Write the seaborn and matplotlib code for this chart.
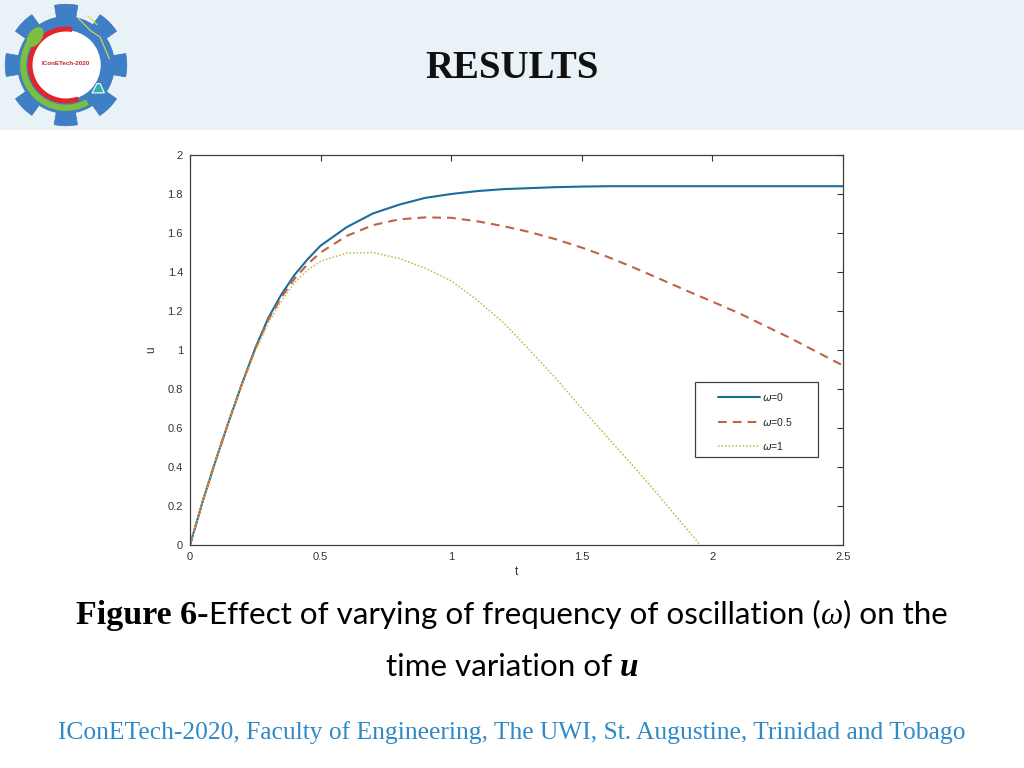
import numpy as np
import pandas as pd
import matplotlib
matplotlib.use("Agg")
import matplotlib.pyplot as plt
from matplotlib.patches import Rectangle, Polygon, Circle, Wedge, Ellipse
from matplotlib.offsetbox import TextArea, HPacker, AnnotationBbox
from matplotlib.ticker import FormatStrFormatter
import seaborn as sns

# values
t_w0 = [0, 0.05, 0.1, 0.15, 0.2, 0.25, 0.3, 0.35, 0.4, 0.45, 0.5,
        0.6, 0.7, 0.8, 0.9, 1.0, 1.1, 1.2, 1.3, 1.4, 1.5,
        1.6, 1.7, 1.8, 1.9, 2.0, 2.1, 2.2, 2.3, 2.4, 2.5]
u_w0 = [0, 0.23, 0.44, 0.64, 0.83, 1.01, 1.165, 1.285, 1.385, 1.465, 1.535,
        1.63, 1.70, 1.745, 1.78, 1.80, 1.815, 1.825, 1.83, 1.835, 1.838,
        1.84, 1.84, 1.84, 1.84, 1.84, 1.84, 1.84, 1.84, 1.84, 1.84]

t_w05 = t_w0
u_w05 = [0, 0.23, 0.44, 0.64, 0.83, 1.005, 1.155, 1.27, 1.365, 1.44, 1.50,
         1.585, 1.64, 1.67, 1.68, 1.678, 1.66, 1.635, 1.605, 1.568, 1.525,
         1.477, 1.422, 1.364, 1.305, 1.248, 1.19, 1.125, 1.06, 0.99, 0.92]

t_w1 = [0, 0.05, 0.1, 0.15, 0.2, 0.25, 0.3, 0.35, 0.4, 0.45, 0.5,
        0.6, 0.7, 0.8, 0.9, 1.0, 1.1, 1.2, 1.3, 1.4, 1.5,
        1.6, 1.7, 1.8, 1.9, 1.95, 2.0]
u_w1 = [0, 0.23, 0.44, 0.64, 0.825, 0.995, 1.14, 1.25, 1.345, 1.41, 1.455,
        1.497, 1.50, 1.47, 1.42, 1.355, 1.255, 1.14, 1.00, 0.855, 0.70,
        0.55, 0.40, 0.245, 0.085, 0.005, -0.08]

labels = ["$\\omega$=0", "$\\omega$=0.5", "$\\omega$=1"]
colors = ["#1d6c9c", "#bd6444", "#c2b843"]
dash_styles = ["", (4.2, 2.9), (1, 1.3)]
widths = [1.5, 1.5, 1.1]

x_ticks = [0, 0.5, 1, 1.5, 2, 2.5]
y_ticks = [0, 0.2, 0.4, 0.6, 0.8, 1, 1.2, 1.4, 1.6, 1.8, 2]

sns.set_theme(style="white")
plt.rcParams['font.family'] = ['Liberation Sans', 'DejaVu Sans']
plt.rcParams['mathtext.fontset'] = 'dejavusans'

fig = plt.figure(figsize=(10.24, 7.68), dpi=100)
fig.patch.set_facecolor('white')

# header band
fig.add_artist(Rectangle((0, 1 - 130 / 768), 1, 130 / 768, transform=fig.transFigure,
                         facecolor='#e9f3f7', edgecolor='none', zorder=0))
fig.text(0.5, 1 - 68 / 768, "RESULTS", family='Liberation Serif', weight='bold',
         size=28, ha='center', va='center', color='#111111')

# logo (rough sketch of the gear)
lax = fig.add_axes([4 / 1024, 1 - 127 / 768, 124 / 1024, 124 / 768])
lax.set_xlim(-1, 1)
lax.set_ylim(-1, 1)
lax.set_aspect('equal')
lax.axis('off')
ang = np.linspace(0, 2 * np.pi, 961)
phase = (ang * 8 / (2 * np.pi) + 0.25) % 1
rad = np.where(phase < 0.5, 0.98, 0.78)
lax.add_patch(Polygon(np.c_[rad * np.cos(ang), rad * np.sin(ang)], closed=True,
                      facecolor='#3f7fc6', edgecolor='#3a75b8', lw=0.5))
lax.add_patch(Circle((0, 0), 0.56, facecolor='white', edgecolor='none'))
lax.add_patch(Wedge((0, 0), 0.74, 150, 300, width=0.1, facecolor='#7cbf3f', edgecolor='none'))
lax.add_patch(Wedge((0, 0), 0.62, 80, 290, width=0.08, facecolor='#e0262b', edgecolor='none'))
lax.add_patch(Ellipse((-0.5, 0.45), 0.22, 0.36, angle=-35, facecolor='#7cbf3f', edgecolor='none'))
lax.add_patch(Polygon([[0.42, -0.45], [0.62, -0.45], [0.55, -0.3], [0.5, -0.3]],
                      closed=True, facecolor='#2bb5a5', edgecolor='white', lw=0.8))
lax.plot([0.2, 0.4, 0.55, 0.7], [0.75, 0.55, 0.45, 0.1], color='#e3d84a', lw=0.8)
lax.plot([0.35, 0.5], [0.8, 0.65], color='#e3d84a', lw=0.8)
lax.text(0, 0.02, "IConETech-2020", ha='center', va='center', size=4.5,
         weight='bold', color='#c8202a')

# main chart
ax = fig.add_axes([190 / 1024, 1 - 545 / 768, 653 / 1024, 390 / 768])
df = pd.concat([
    pd.DataFrame({'t': t_w0, 'u': u_w0, 'omega': labels[0]}),
    pd.DataFrame({'t': t_w05, 'u': u_w05, 'omega': labels[1]}),
    pd.DataFrame({'t': t_w1, 'u': u_w1, 'omega': labels[2]}),
], ignore_index=True)
sns.lineplot(data=df, x='t', y='u', hue='omega', style='omega',
             palette=dict(zip(labels, colors)), dashes=dict(zip(labels, dash_styles)),
             estimator=None, sort=False, legend=False, ax=ax)
for line, w in zip(ax.lines, widths):
    line.set_linewidth(w)

ax.set_xlim(0, 2.5)
ax.set_ylim(0, 2)
ax.set_xticks(x_ticks)
ax.set_yticks(y_ticks)
ax.xaxis.set_major_formatter(FormatStrFormatter('%g'))
ax.yaxis.set_major_formatter(FormatStrFormatter('%g'))
ax.tick_params(direction='in', length=4, width=0.8, top=True, right=True,
               labelsize=8, colors='#333333', pad=5)
for sp in ax.spines.values():
    sp.set_color('#404040')
    sp.set_linewidth(0.9)
ax.set_xlabel('t', fontsize=8.5, color='#333333')
ax.set_ylabel('u', fontsize=8.5, color='#333333')
ax.xaxis.set_label_coords(0.5, -0.055)
ax.yaxis.set_label_coords(-0.05, 0.5)

# legend: frameless content centred inside a drawn box
box_l, box_r, box_t, box_b = 695, 818, 382, 457
ax.add_patch(Rectangle((box_l / 1024, 1 - box_b / 768), (box_r - box_l) / 1024,
                       (box_b - box_t) / 768, transform=fig.transFigure, clip_on=False,
                       facecolor='white', edgecolor='#404040', lw=0.9, zorder=4.5))
leg = ax.legend(ax.lines, labels, loc='center',
                bbox_to_anchor=((box_l + box_r) / 2 / 1024 - 0.001,
                                1 - (box_t + box_b + 4) / 2 / 768),
                bbox_transform=fig.transFigure, fontsize=7.5, frameon=False,
                handlelength=4.0, handletextpad=0.15, labelspacing=1.2, borderpad=0)
leg.set_zorder(5)


def caption_line(parts, y):
    areas = [TextArea(s, textprops=p) for s, p in parts]
    box = HPacker(children=areas, align='baseline', pad=0, sep=0)
    ab = AnnotationBbox(box, (0.5, y), xycoords='figure fraction', frameon=False,
                        box_alignment=(0.5, 0.5))
    fig.add_artist(ab)


serif_b = dict(family='Liberation Serif', weight='bold', size=24.5, color='black')
sans = dict(family=['Lato', 'DejaVu Sans'], size=22.6, color='black')
greek = dict(family='Liberation Serif', style='italic', size=22.6, color='black')
u_bi = dict(family='Liberation Serif', style='italic', weight='bold', size=24, color='black')

caption_line([("Figure 6-", serif_b),
              ("Effect of varying of frequency of oscillation (", sans),
              ("ω", greek),
              (") on the", sans)], 1 - 615 / 768)
caption_line([("time variation of ", sans), ("u", u_bi)], 1 - 667 / 768)

fig.text(0.5, 1 - 733 / 768,
         "IConETech-2020, Faculty of Engineering, The UWI, St. Augustine, Trinidad and Tobago",
         family='Liberation Serif', size=18.4, color='#2f8ac6', ha='center', va='center')

fig.savefig('out.png', dpi=100, facecolor='white')
